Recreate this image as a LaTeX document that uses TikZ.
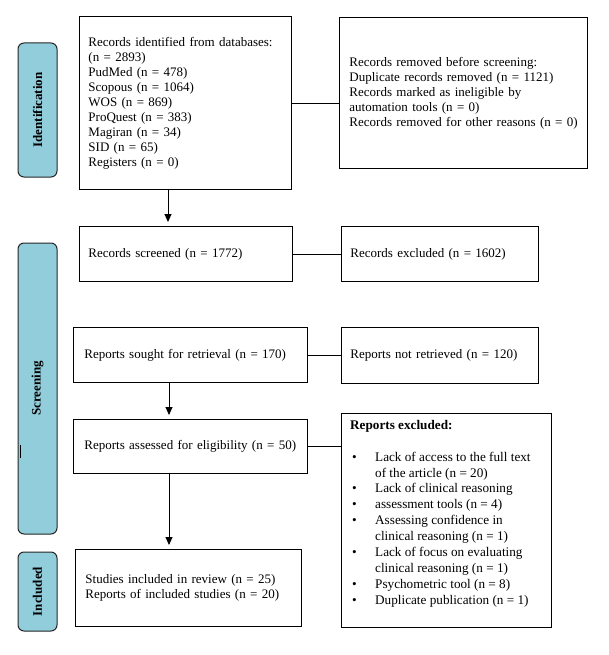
\documentclass[tikz,border=0pt]{standalone}
\usepackage{fontspec}
\setmainfont{Liberation Serif}
\usetikzlibrary{arrows.meta}
\definecolor{phaseblue}{HTML}{92CDDC}
\newcommand{\bul}{\makebox[25pt][l]{\hspace{2pt}\textbullet}}
\newcommand{\nobul}{\hspace{25pt}}
\newcommand{\oneline}[1]{\mbox{#1}}
\begin{document}
\begin{tikzpicture}[x=1pt,y=-1pt,
  font=\fontsize{13}{15}\selectfont,
  box/.style={draw=black, line width=0.9pt, rectangle, anchor=north west, inner sep=0pt, align=left},
  phase/.style={draw=black!85, line width=1pt, fill=phaseblue, rounded corners=6pt, rotate=90, font=\fontsize{13}{15}\selectfont\bfseries, inner sep=0pt},
  link/.style={draw=black, line width=0.8pt},
  arr/.style={draw=black, line width=0.9pt, -{Triangle[length=8pt,width=7pt]}, shorten >=4pt}]
\path[use as bounding box, fill=white] (0,0) rectangle (608,655);

% phase labels
\node[phase, minimum width=134pt, minimum height=39pt] (idlab) at (37.5,110) {Identification};
\node[phase, minimum width=291pt, minimum height=39pt] (sclab) at (37.5,388.5) {Screening};
\node[phase, minimum width=79pt, minimum height=39pt] (inlab) at (37.5,591.5) {Included};
\draw[line width=0.8pt] (20,445) -- (20,458);

% boxes
\node[box, minimum width=212pt, minimum height=173pt, text width=194pt] (ident) at (79,16) {\oneline{Records identified from databases:}\\(n = 2893)\\PudMed (n = 478)\\Scopous (n = 1064)\\WOS (n = 869)\\ProQuest (n = 383)\\Magiran (n = 34)\\SID (n = 65)\\Registers (n = 0)};
\node[box, minimum width=248pt, minimum height=151pt, text width=228pt] (removed) at (339,17) {\oneline{Records removed before screening:}\\\oneline{Duplicate records removed (n = 1121)}\\\oneline{Records marked as ineligible by}\\\oneline{automation tools (n = 0)}\\\oneline{Records removed for other reasons (n = 0)}};

\node[box, minimum width=213pt, minimum height=55pt, text width=195pt] (screened) at (79,226) {Records screened (n = 1772)};
\node[box, minimum width=197pt, minimum height=55pt, text width=179pt] (excluded) at (341,226) {Records excluded (n = 1602)};

\node[box, minimum width=234pt, minimum height=55pt, text width=212pt] (sought) at (73,327) {\oneline{Reports sought for retrieval (n = 170)}};
\node[box, minimum width=197pt, minimum height=56pt, text width=179pt] (notret) at (341,327) {\oneline{Reports not retrieved (n = 120)}};

\node[box, minimum width=234pt, minimum height=54pt, text width=212pt] (assessed) at (73,419) {\oneline{Reports assessed for eligibility (n = 50)}};
\node[box, minimum width=210pt, minimum height=214pt] (repexcl) at (341,413) {};
\node[anchor=north west, align=left, inner sep=0pt, font=\fontsize{13.2}{15.9}\selectfont] (repexcltext) at (350,420) {\textbf{Reports excluded:}\\[15.9pt]
\bul Lack of access to the full text\\
\nobul of the article (n = 20)\\
\bul Lack of clinical reasoning\\
\bul assessment tools (n = 4)\\
\bul Assessing confidence in\\
\nobul clinical reasoning (n = 1)\\
\bul Lack of focus on evaluating\\
\nobul clinical reasoning (n = 1)\\
\bul Psychometric tool (n = 8)\\
\bul Duplicate publication (n = 1)};

\node[box, minimum width=226pt, minimum height=77pt, text width=206pt] (included) at (75,549) {\oneline{Studies included in review (n = 25)}\\\oneline{Reports of included studies (n = 20)}};

% connectors
\draw[link] (ident.east) -- (ident.east -| removed.west);
\draw[link] (screened.east) -- (screened.east -| excluded.west);
\draw[link] (sought.east) -- (sought.east -| notret.west);
\draw[link] (assessed.east) -- (assessed.east -| repexcl.west);

\draw[arr] ([xshift=89pt]ident.south west) -- ([xshift=89pt]screened.north west);
\draw[arr] ([xshift=96pt]sought.south west) -- ([xshift=96pt]assessed.north west);
\draw[arr] ([xshift=96pt]assessed.south west) -- ([xshift=94pt]included.north west);
\end{tikzpicture}
\end{document}
